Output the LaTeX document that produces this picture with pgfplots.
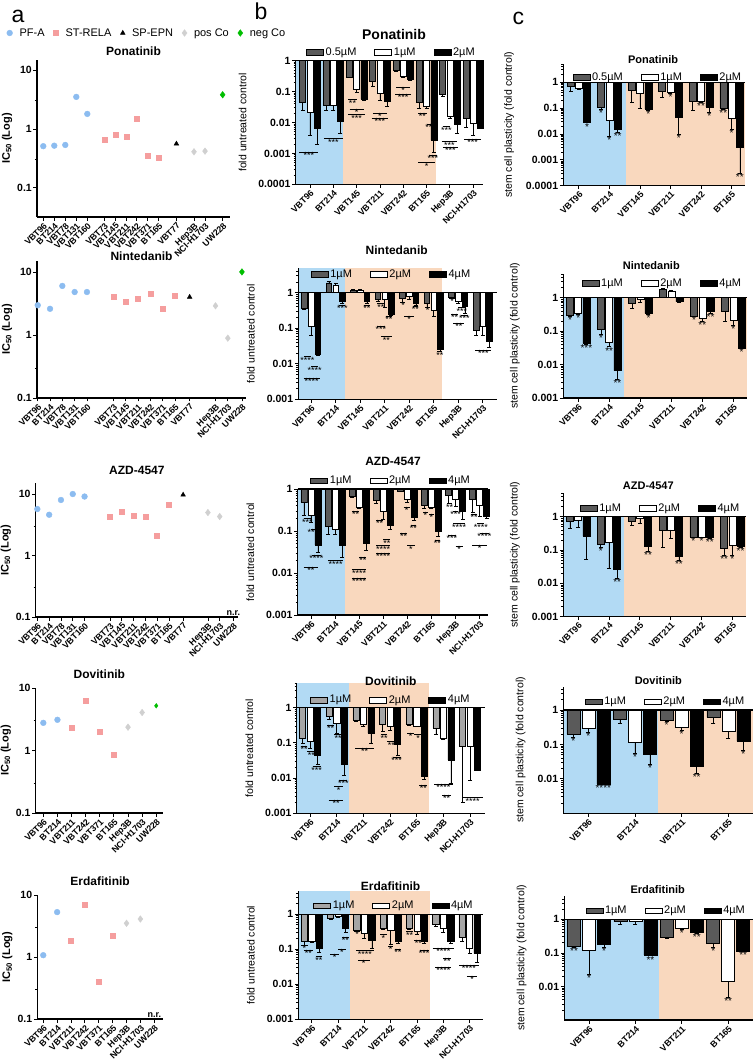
\documentclass[border=0pt]{standalone}
\usepackage{fontspec}
\setmainfont{Liberation Sans}
\usepackage{pgfplots}
\pgfplotsset{compat=1.18}
\definecolor{pfa}{RGB}{140,188,240}
\definecolor{rela}{RGB}{245,158,158}
\definecolor{posco}{RGB}{208,208,208}
\definecolor{negco}{RGB}{0,190,0}
\definecolor{bgb}{RGB}{178,218,244}
\definecolor{bgo}{RGB}{249,216,190}
\definecolor{dg}{RGB}{90,90,90}
\definecolor{lg}{RGB}{165,165,165}
\newcommand{\fs}[1]{\fontsize{#1bp}{#1bp}\selectfont}
\def\mfour{0.0002,0.0003,0.0004,0.0005,0.0006,0.0007,0.0008,0.0009}
\def\mthree{0.002,0.003,0.004,0.005,0.006,0.007,0.008,0.009}
\def\mtwo{0.02,0.03,0.04,0.05,0.06,0.07,0.08,0.09}
\def\mone{0.2,0.3,0.4,0.5,0.6,0.7,0.8,0.9}
\def\mup{2,3,4,5}
\newcommand{\sig}[4]{\draw[line width=0.5bp] (axis cs:#1,#3) -- (axis cs:#2,#3) node[midway,anchor=north,inner sep=0.2bp,font=\fs{9}] {#4};}
\newcommand{\st}[4]{\node[anchor=north,inner sep=0.2bp,font=\fs{10}] at ([xshift=#2bp]axis cs:#1,#3) {#4};}
\pgfplotsset{
  zqbase/.style={scale only axis, axis on top, clip=false,
    axis x line*=bottom, axis y line*=left,
    axis line style={line width=1.1bp},
    tick align=outside, major tick length=3.5bp, minor tick length=2bp,
    every tick/.append style={line width=0.8bp, black},
    yticklabel style={font=\bfseries\fs{10.5}, inner sep=1.5bp},
    xticklabel style={font=\bfseries\fs{8.8}, rotate=45, anchor=north east, inner sep=1bp},
    title style={font=\bfseries\fs{12}, anchor=center},
    ylabel style={font=\fs{10.5}},
    legend cell align=left,
  },
  zqsca/.style={zqbase, ytick={0.1,1,10}, yticklabels={0.1,1,10}, minor ytick={0.3,3},
    ylabel={IC\textsubscript{50} (Log)}, ylabel style={font=\bfseries\fs{11}},
  },
  zqbar/.style={zqbase, ybar=1.2bp, bar width=5.5bp,
    error bars/y dir=both, error bars/y explicit,
    error bars/error bar style={line width=0.6bp, black},
    error bars/error mark options={rotate=90, mark size=2bp, line width=0.6bp, black},
    legend columns=3,
    legend style={draw=none, fill=none, font=\fs{11}, anchor=center, /tikz/every even column/.append style={column sep=16bp}},
    extra y ticks={1}, extra y tick labels={},
    extra y tick style={ymajorgrids=true, major grid style={line width=1.1bp, black}},
    ylabel={fold untreated control},
  },
  zqcax/.style={zqbar, ylabel={stem cell plasticity (fold control)}, title style={font=\bfseries\fs{11}}},
  zqga/.style={fill=dg, draw=black, line width=0.5bp, area legend},
  zqgl/.style={fill=lg, draw=black, line width=0.5bp, area legend},
  zqgb/.style={fill=white, draw=black, line width=0.5bp, area legend},
  zqgc/.style={fill=black, draw=black, line width=0.5bp, area legend},
  zqmA/.style={only marks, mark=*, mark size=2.9bp, color=pfa, mark options={fill=pfa, draw=pfa}},
  zqmB/.style={only marks, mark=square*, mark size=2.5bp, color=rela, mark options={fill=rela, draw=rela}},
  zqmC/.style={only marks, mark=triangle*, mark size=2.7bp, color=black, mark options={fill=black, draw=black}},
  zqmD/.style={only marks, mark=diamond*, mark size=3.3bp, color=posco, mark options={fill=posco, draw=posco}},
  zqmE/.style={only marks, mark=diamond*, mark size=3.3bp, color=negco, mark options={fill=negco, draw=negco}},
}
\begin{document}
\begin{tikzpicture}
\path[use as bounding box] (0,0) rectangle (755bp,-1062bp);
\node[anchor=base west,font=\fs{23}] at (8bp,-22bp) {a};
\node[anchor=base west,font=\fs{23}] at (251bp,-19bp) {b};
\node[anchor=base west,font=\fs{23}] at (509bp,-24bp) {c};

% ---------------- column a ----------------
\begin{axis}[zqsca, ymode=log, anchor=south west, at={(37bp,-217bp)}, width=193bp, height=157bp,
  xmin=-0.57, xmax=16.97, ymin=0.032, ymax=14.8,
  xtick={0,1,2,3,4,5.55,6.55,7.55,8.5,9.5,10.5,12.1,13.7,14.7,16.3},
  xticklabels={VBT96,BT214,VBT78,VBT131,VBT160,VBT73,VBT145,VBT211,VBT242,VBT371,BT165,VBT77,Hep3B,NCI-H1703,UW228},
  title={Ponatinib}, title style={at={(0.5,1.02)}},
  legend columns=5,
  legend style={draw=none, fill=none, at={(0.57,1.172)}, anchor=center, font=\fs{11},
    /tikz/every odd column/.append style={column sep=5bp},
    /tikz/every even column/.append style={column sep=7bp}},
]
\addplot[zqmA] coordinates {(0,0.51)(1,0.52)(2,0.535)(3,3.5)(4,1.8)};
\addlegendentry{PF-A}
\addplot[zqmB] coordinates {(5.55,0.66)(6.55,0.79)(7.55,0.73)(8.5,1.5)(9.5,0.35)(10.5,0.32)};
\addlegendentry{ST-RELA}
\addplot[zqmC] coordinates {(12.1,0.56)};
\addlegendentry{SP-EPN}
\addplot[zqmD] coordinates {(13.7,0.41)(14.7,0.42)};
\addlegendentry{pos Co}
\addplot[zqmE] coordinates {(16.3,3.8)};
\addlegendentry{neg Co}
\end{axis}

\begin{axis}[zqsca, ymode=log, anchor=south west, at={(37bp,-398bp)}, width=209bp, height=137bp,
  xmin=-0.06, xmax=16.93, ymin=0.1, ymax=14.9,
  xtick={0,1,2,3,4,6.15,7.15,8.15,9.15,10.15,11.15,12.35,14.45,15.45,16.6},
  xticklabels={VBT96,BT214,VBT78,VBT131,VBT160,VBT73,VBT145,VBT211,VBT242,VBT371,BT165,VBT77,Hep3B,NCI-H1703,UW228},
  title={Nintedanib}, title style={at={(0.5,0.993)}},
]
\addplot[zqmA] coordinates {(0,2.96)(1,2.6)(2,6.0)(3,4.8)(4,4.8)};
\addplot[zqmB] coordinates {(6.15,4.0)(7.15,3.4)(8.15,3.8)(9.15,4.5)(10.15,2.6)(11.15,4.2)};
\addplot[zqmC] coordinates {(12.35,4.0)};
\addplot[zqmD] coordinates {(14.45,2.9)(15.45,0.89)};
\addplot[zqmE] coordinates {(16.6,10)};
\end{axis}

\begin{axis}[zqsca, ymode=log, anchor=south west, at={(35.7bp,-617bp)}, width=202.3bp, height=134bp,
  xmin=-0.14, xmax=17.0, ymin=0.1, ymax=15.1,
  xtick={0,1,2,3,4,6.15,7.15,8.15,9.15,10.15,11.15,12.35,14.45,15.45,16.6},
  xticklabels={VBT96,BT214,VBT78,VBT131,VBT160,VBT73,VBT145,VBT211,VBT242,VBT371,BT165,VBT77,Hep3B,NCI-H1703,UW228},
  title={AZD-4547}, title style={at={(0.5,1.052)}},
]
\addplot[zqmA] coordinates {(0,5.7)(1,4.6)(2,8.0)(3,10)(4,9.1)};
\addplot[zqmB] coordinates {(6.15,4.3)(7.15,5.2)(8.15,4.5)(9.15,4.3)(10.15,2.1)(11.15,6.6)};
\addplot[zqmC] coordinates {(12.35,9.7)};
\addplot[zqmD] coordinates {(14.45,5.0)(15.45,4.3)};
\node[anchor=south,font=\bfseries\fs{9},inner sep=1bp] at (axis cs:16.6,0.1) {n.r.};
\end{axis}

\begin{axis}[zqsca, ymode=log, anchor=south west, at={(35.7bp,-813bp)}, width=127.3bp, height=125bp,
  xmin=-0.54, xmax=8.48, ymin=0.1, ymax=10,
  xtick={0,...,8},
  xticklabels={VBT96,BT214,VBT211,VBT242,VBT371,BT165,Hep3B,NCI-H1703,UW228},
  title={Dovitinib}, title style={at={(0.5,1.064)}},
]
\addplot[zqmA] coordinates {(0,2.77)(1,3.1)};
\addplot[zqmB] coordinates {(2,2.3)(3,6.2)(4,2.0)(5,0.85)};
\addplot[zqmD] coordinates {(6,2.36)(7,4.06)};
\addplot[zqmE, mark size=2.3bp] coordinates {(8,5.2)};
\end{axis}

\begin{axis}[zqsca, ymode=log, anchor=south west, at={(37.3bp,-1019bp)}, width=125.7bp, height=124bp,
  xmin=-0.43, xmax=8.63, ymin=0.1, ymax=10,
  xtick={0,...,8},
  xticklabels={VBT96,BT214,VBT211,VBT242,VBT371,BT165,Hep3B,NCI-H1703,UW228},
  title={Erdafitinib}, title style={at={(0.5,1.065)}},
]
\addplot[zqmA] coordinates {(0,1.07)(1,5.3)};
\addplot[zqmB] coordinates {(2,1.8)(3,6.9)(4,0.4)(5,2.2)};
\addplot[zqmD] coordinates {(6,3.5)(7,4.1)};
\node[anchor=south,font=\bfseries\fs{9},inner sep=1bp] at (axis cs:8,0.1) {n.r.};
\end{axis}

% ---------------- column b ----------------
\begin{axis}[zqbar, ymode=log, anchor=south west, at={(295.7bp,-184.3bp)}, width=187.3bp, height=123.6bp,
  bar width=6bp, ybar=1.2bp,
  xmin=-0.61, xmax=7.42, ymin=0.0001, ymax=1,
  ytick={0.0001,0.001,0.01,0.1,1}, yticklabels={0.0001,0.001,0.01,0.1,1},
  minor ytick/.expanded={\mfour,\mthree,\mtwo,\mone},
  xtick={0,...,7}, xticklabels={VBT96,BT214,VBT145,VBT211,VBT242,BT165,Hep3B,NCI-H1703},
  title={Ponatinib}, title style={at={(0.525,1.167)}, font=\bfseries\fs{14}},
  legend style={at={(0.511,1.07)}},
]
\fill[bgb] (axis cs:-0.61,0.0001) rectangle (axis cs:1.4,1);
\fill[bgo] (axis cs:1.4,0.0001) rectangle (axis cs:5.4,1);
\addplot[zqga] coordinates {(0,0.045) -= (0,0.02) (1,0.035) -= (0,0.01) (2,0.29) -= (0,0.01) (3,0.21) -= (0,0.06) (4,0.48) -= (0,0.03) (5,0.044) -= (0,0.015) (6,0.085) -= (0,0.015) (7,0.014) -= (0,0.007)};
\addlegendentry{0.5µM}
\addplot[zqgb] coordinates {(0,0.021) -= (0,0.017) (1,0.035) -= (0,0.01) (2,0.12) -= (0,0.025) (3,0.089) -= (0,0.035) (4,0.32) -= (0,0.02) (5,0.033) -= (0,0.004) (6,0.016) -= (0,0.002) (7,0.0095) -= (0,0.0055)};
\addlegendentry{1µM}
\addplot[zqgc] coordinates {(0,0.0065) -= (0,0.0045) (1,0.011) -= (0,0.0065) (2,0.057) -= (0,0.005) (3,0.048) -= (0,0.015) (4,0.26) -= (0,0.03) (5,0.0027) -= (0,0.0016) (6,0.009) -= (0,0.0045) (7,0.0065)};
\addlegendentry{2µM}
\sig{-0.45}{0.35}{0.0011}{***}
\sig{0.6}{1.4}{0.003}{***}
\sig{1.65}{2.0}{0.055}{**}
\sig{1.7}{2.3}{0.027}{*}
\sig{1.65}{2.35}{0.018}{***}
\sig{2.7}{3.3}{0.02}{*}
\sig{2.65}{3.35}{0.014}{***}
\sig{3.7}{4.3}{0.14}{*}
\sig{3.65}{4.35}{0.085}{***}
\sig{4.65}{5.0}{0.02}{**}
\sig{5.0}{5.35}{0.009}{***}
\sig{5.1}{5.45}{0.0009}{***}
\sig{4.65}{5.35}{0.0005}{*}
\sig{5.7}{6.0}{0.0074}{***}
\sig{5.65}{6.3}{0.0024}{***}
\sig{5.7}{6.35}{0.0016}{***}
\sig{6.6}{7.35}{0.0029}{***}
\end{axis}

\begin{axis}[zqbar, ymode=log, anchor=south west, at={(298.3bp,-399.3bp)}, width=198.4bp, height=131bp,
  xmin=-0.52, xmax=7.57, ymin=0.001, ymax=4.87,
  ytick={0.001,0.01,0.1,1}, yticklabels={0.001,0.01,0.1,1},
  minor ytick/.expanded={\mthree,\mtwo,\mone,\mup},
  xtick={0,...,7}, xticklabels={VBT96,BT214,VBT145,VBT211,VBT242,BT165,Hep3B,NCI-H1703},
  title={Nintedanib}, title style={at={(0.496,1.089)}},
  legend style={at={(0.47,0.956)}},
]
\fill[bgb] (axis cs:-0.52,0.001) rectangle (axis cs:1.39,4.87);
\fill[bgo] (axis cs:1.39,0.001) rectangle (axis cs:5.35,4.87);
\addplot[zqga] coordinates {(0,0.36) -= (0,0.02) (1,1.9) += (0,0.15) (2,1.19) += (0,0.05) (3,0.65) -= (0,0.08) (4,0.68) -= (0,0.13) (5,0.5) -= (0,0.1) (6,0.77) -= (0,0.08) (7,0.089) -= (0,0.025)};
\addlegendentry{1µM}
\addplot[zqgb] coordinates {(0,0.115) -= (0,0.05) (1,1.64) += (0,0.2) (2,1.18) += (0,0.03) (3,0.65) -= (0,0.25) (4,0.82) -= (0,0.15) (5,0.32) -= (0,0.1) (6,0.56) -= (0,0.05) (7,0.115) -= (0,0.05)};
\addlegendentry{2µM}
\addplot[zqgc] coordinates {(0,0.018) -= (0,0.001) (1,0.56) -= (0,0.05) (2,0.56) -= (0,0.05) (3,0.25) -= (0,0.02) (4,0.52) -= (0,0.07) (5,0.025) -= (0,0.002) (6,0.42) -= (0,0.15) (7,0.042) -= (0,0.012)};
\addlegendentry{4µM}
\sig{-0.3}{0}{0.016}{****}
\sig{0}{0.3}{0.0083}{****}
\sig{-0.3}{0.35}{0.0039}{****}
\sig{1.15}{1.4}{0.45}{***}
\sig{2.15}{2.4}{0.45}{**}
\sig{2.7}{3.0}{0.5}{**}
\sig{3.05}{3.3}{0.22}{**}
\sig{2.7}{3.0}{0.115}{***}
\sig{2.85}{3.3}{0.058}{**}
\sig{3.65}{3.85}{0.55}{*}
\sig{4.15}{4.35}{0.42}{**}
\sig{3.8}{4.2}{0.22}{*}
\sig{4.65}{4.85}{0.4}{*}
\sig{5.15}{5.35}{0.022}{**}
\sig{5.65}{5.85}{0.7}{*}
\sig{6.0}{6.3}{0.38}{***}
\sig{5.7}{6.0}{0.25}{**}
\sig{6.1}{6.4}{0.24}{***}
\sig{5.8}{6.25}{0.14}{**}
\sig{6.7}{7.35}{0.024}{***}
\end{axis}

\begin{axis}[zqbar, ymode=log, anchor=south west, at={(297.7bp,-615bp)}, width=190.6bp, height=126bp,
  bar width=6bp, ybar=1bp,
  xmin=-0.55, xmax=7.36, ymin=0.001, ymax=1,
  ytick={0.001,0.01,0.1,1}, yticklabels={0.001,0.01,0.1,1},
  minor ytick/.expanded={\mthree,\mtwo,\mone},
  xtick={0,...,7}, xticklabels={VBT96,BT214,VBT145,VBT211,VBT242,BT165,Hep3B,NCI-H1703},
  title={AZD-4547}, title style={at={(0.5,1.172)}},
  legend style={at={(0.49,1.066)}},
]
\fill[bgb] (axis cs:-0.55,0.001) rectangle (axis cs:1.4,1);
\fill[bgo] (axis cs:1.4,0.001) rectangle (axis cs:5.37,1);
\addplot[zqga] coordinates {(0,0.48) -= (0,0.24) (1,0.13) -= (0,0.045) (2,0.66) -= (0,0.03) (3,0.55) -= (0,0.1) (4,0.9) -= (0,0.03) (5,0.4) -= (0,0.06) (6,0.72) -= (0,0.26) (7,0.58) -= (0,0.3)};
\addlegendentry{1µM}
\addplot[zqgb] coordinates {(0,0.24) -= (0,0.08) (1,0.11) -= (0,0.025) (2,0.37) -= (0,0.02) (3,0.29) -= (0,0.1) (4,0.57) -= (0,0.1) (5,0.37) -= (0,0.03) (6,0.58) -= (0,0.2) (7,0.42) -= (0,0.2)};
\addlegendentry{2µM}
\addplot[zqgc] coordinates {(0,0.047) -= (0,0.016) (1,0.047) -= (0,0.023) (2,0.051) -= (0,0.016) (3,0.14) -= (0,0.03) (4,0.21) -= (0,0.03) (5,0.1) -= (0,0.027) (6,0.29) -= (0,0.1) (7,0.22) -= (0,0.02)};
\addlegendentry{4µM}
\sig{-0.3}{0}{0.2}{***}
\sig{0}{0.3}{0.11}{****}
\sig{0.05}{0.4}{0.027}{****}
\sig{-0.3}{0.3}{0.014}{**}
\sig{0.7}{1.35}{0.02}{****}
\sig{1.7}{2.0}{0.3}{**}
\sig{2.0}{2.3}{0.024}{**}
\sig{1.7}{2.3}{0.012}{****}
\sig{1.7}{2.3}{0.0075}{****}
\sig{2.7}{3.0}{0.18}{**}
\sig{3.0}{3.3}{0.063}{**}
\sig{2.7}{3.3}{0.045}{****}
\sig{2.7}{3.3}{0.03}{****}
\sig{3.85}{4.1}{0.37}{*}
\sig{4.15}{4.35}{0.14}{**}
\sig{3.7}{4.0}{0.088}{**}
\sig{4.0}{4.3}{0.045}{*}
\sig{4.65}{4.85}{0.28}{*}
\sig{4.9}{5.1}{0.25}{*}
\sig{5.15}{5.35}{0.061}{**}
\sig{5.65}{5.85}{0.45}{**}
\sig{5.9}{6.1}{0.3}{***}
\sig{5.9}{6.4}{0.15}{****}
\sig{5.7}{6.0}{0.08}{***}
\sig{6.0}{6.3}{0.044}{*}
\sig{6.65}{6.9}{0.25}{**}
\sig{6.9}{7.2}{0.15}{****}
\sig{7.0}{7.4}{0.088}{****}
\sig{6.7}{7.3}{0.046}{*}
\end{axis}

\begin{axis}[zqbar, ymode=log, anchor=south west, at={(296.7bp,-813.3bp)}, width=188.3bp, height=130.3bp,
  bar width=6.2bp, ybar=1.3bp,
  xmin=-0.5, xmax=6.56, ymin=0.001, ymax=5.0,
  ytick={0.001,0.01,0.1,1}, yticklabels={0.001,0.01,0.1,1},
  minor ytick/.expanded={\mthree,\mtwo,\mone,\mup},
  xtick={0,...,6}, xticklabels={VBT96,BT214,VBT211,VBT242,BT165,Hep3B,NCI-H1703},
  title={Dovitinib}, title style={at={(0.5,0.97)}},
  legend style={at={(0.5,0.87)}},
]
\fill[bgb] (axis cs:-0.5,0.001) rectangle (axis cs:1.46,5);
\fill[bgo] (axis cs:1.46,0.001) rectangle (axis cs:4.45,5);
\addplot[zqgl] coordinates {(0,0.135) -= (0,0.04) (1,0.56) -= (0,0.1) (2,0.45) -= (0,0.05) (3,0.34) -= (0,0.13) (4,0.34) -= (0,0.03) (5,0.26) -= (0,0.08) (6,0.08) -= (0,0.078)};
\addlegendentry{1µM}
\addplot[zqgb] coordinates {(0,0.11) -= (0,0.04) (1,0.36) -= (0,0.17) (2,0.34) -= (0,0.04) (3,0.3) -= (0,0.07) (4,0.3) (5,0.135) -= (0,0.01) (6,0.078) -= (0,0.0695)};
\addlegendentry{2µM}
\addplot[zqgc] coordinates {(0,0.045) -= (0,0.02) (1,0.025) -= (0,0.013) (2,0.19) -= (0,0.09) (3,0.093) -= (0,0.05) (4,0.011) -= (0,0.002) (5,0.033) -= (0,0.026) (6,0.017)};
\addlegendentry{4µM}
\sig{-0.35}{-0.1}{0.08}{**}
\sig{-0.1}{0.2}{0.056}{**}
\sig{0.1}{0.4}{0.021}{***}
\sig{0.65}{0.9}{0.32}{**}
\sig{0.9}{1.2}{0.17}{**}
\sig{1.1}{1.4}{0.0088}{***}
\sig{0.9}{1.25}{0.0057}{*}
\sig{0.7}{1.25}{0.0024}{**}
\sig{1.7}{2.4}{0.07}{**}
\sig{2.65}{2.9}{0.17}{**}
\sig{2.9}{3.2}{0.11}{**}
\sig{3.1}{3.4}{0.04}{***}
\sig{3.65}{3.9}{0.19}{*}
\sig{3.9}{4.2}{0.17}{*}
\sig{4.1}{4.4}{0.0064}{**}
\sig{4.65}{5.35}{0.0068}{****}
\sig{4.95}{5.3}{0.0033}{**}
\sig{5.7}{6.5}{0.0028}{****}
\end{axis}

\begin{axis}[zqbar, ymode=log, anchor=south west, at={(298.3bp,-1019.3bp)}, width=184.7bp, height=128.6bp,
  bar width=6.2bp, ybar=1.3bp,
  xmin=-0.51, xmax=6.51, ymin=0.001, ymax=4.7,
  ytick={0.001,0.01,0.1,1}, yticklabels={0.001,0.01,0.1,1},
  minor ytick/.expanded={\mthree,\mtwo,\mone,\mup},
  xtick={0,...,6}, xticklabels={VBT96,BT214,VBT211,VBT242,BT165,Hep3B,NCI-H1703},
  title={Erdafitinib}, title style={at={(0.5,0.99)}},
  legend style={at={(0.518,0.883)}},
]
\fill[bgb] (axis cs:-0.51,0.001) rectangle (axis cs:1.46,4.7);
\fill[bgo] (axis cs:1.46,0.001) rectangle (axis cs:4.5,4.7);
\addplot[zqgl] coordinates {(0,0.17) -= (0,0.04) (1,0.77) -= (0,0.05) (2,0.34) -= (0,0.02) (3,0.4) -= (0,0.04) (4,0.4) -= (0,0.02) (5,0.52) -= (0,0.07) (6,0.22) -= (0,0.05)};
\addlegendentry{1µM}
\addplot[zqgb] coordinates {(0,0.17) -= (0,0.01) (1,0.86) -= (0,0.03) (2,0.29) -= (0,0.09) (3,0.34) -= (0,0.2) (4,0.32) -= (0,0.06) (5,0.4) -= (0,0.1) (6,0.11) -= (0,0.033)};
\addlegendentry{2µM}
\addplot[zqgc] coordinates {(0,0.107) -= (0,0.027) (1,0.4) -= (0,0.1) (2,0.185) -= (0,0.075) (3,0.17) -= (0,0.02) (4,0.17) -= (0,0.02) (5,0.17) -= (0,0.02) (6,0.077) -= (0,0.035)};
\addlegendentry{4µM}
\sig{-0.4}{-0.15}{0.13}{*}
\sig{-0.3}{0.05}{0.096}{**}
\sig{0.15}{0.4}{0.062}{**}
\sig{1.15}{1.4}{0.22}{**}
\sig{1.0}{1.3}{0.1}{*}
\sig{0.7}{1.05}{0.074}{*}
\sig{1.6}{1.85}{0.33}{*}
\sig{1.7}{2.35}{0.092}{****}
\sig{1.75}{2.2}{0.05}{*}
\sig{2.6}{2.85}{0.26}{*}
\sig{2.9}{3.1}{0.125}{*}
\sig{3.15}{3.4}{0.1}{**}
\sig{3.6}{3.85}{0.32}{**}
\sig{3.9}{4.2}{0.185}{**}
\sig{4.1}{4.45}{0.096}{***}
\sig{4.6}{5.4}{0.11}{****}
\sig{5.0}{5.3}{0.056}{**}
\sig{4.7}{5.3}{0.031}{****}
\sig{5.6}{6.35}{0.036}{****}
\sig{5.9}{6.3}{0.017}{*}
\end{axis}

% ---------------- column c ----------------
\begin{axis}[zqcax, ymode=log, anchor=south west, at={(563.3bp,-185.7bp)}, width=181.7bp, height=121.7bp,
  bar width=7bp, ybar=1.3bp,
  xmin=-0.51, xmax=5.44, ymin=0.0001, ymax=5.0,
  ytick={0.0001,0.001,0.01,0.1,1}, yticklabels={0.0001,0.001,0.01,0.1,1},
  minor ytick/.expanded={\mfour,\mthree,\mtwo,\mone,\mup},
  xtick={0,...,5}, xticklabels={VBT96,BT214,VBT145,VBT211,VBT242,BT165},
  title={Ponatinib}, title style={at={(0.494,0.99)}},
  legend style={at={(0.52,0.89)}},
]
\fill[bgb] (axis cs:-0.51,0.0001) rectangle (axis cs:1.53,1);
\fill[bgo] (axis cs:1.53,0.0001) rectangle (axis cs:5.44,1);
\addplot[zqga] coordinates {(0,0.68) -= (0,0.22) (1,0.107) -= (0,0.02) (2,0.48) -= (0,0.32) (3,0.44) -= (0,0.19) (4,0.18) -= (0,0.1) (5,0.1) -= (0,0.01)};
\addlegendentry{0.5µM}
\addplot[zqgb] coordinates {(0,0.59) -= (0,0.04) (1,0.033) -= (0,0.025) (2,0.36) -= (0,0.26) (3,0.4) -= (0,0.03) (4,0.18) -= (0,0.01) (5,0.039) -= (0,0.024)};
\addlegendentry{1µM}
\addplot[zqgc] coordinates {(0,0.029) -= (0,0.002) (1,0.015) -= (0,0.003) (2,0.09) -= (0,0.005) (3,0.045) -= (0,0.035) (4,0.11) -= (0,0.04) (5,0.003) -= (0,0.0027)};
\addlegendentry{2µM}
\st{0}{8.3}{0.027}{*}
\st{1}{-8.3}{0.087}{*}
\st{1}{0}{0.008}{*}
\st{1}{8.3}{0.012}{**}
\st{2}{8.3}{0.085}{*}
\st{3}{0}{0.37}{*}
\st{3}{8.3}{0.01}{*}
\st{4}{0}{0.17}{**}
\st{4}{8.3}{0.07}{*}
\st{5}{-8.3}{0.09}{**}
\st{5}{0}{0.015}{*}
\st{5}{8.3}{0.0003}{**}
\end{axis}

\begin{axis}[zqcax, ymode=log, anchor=south west, at={(563.3bp,-398bp)}, width=183.4bp, height=124bp,
  bar width=7bp, ybar=1.2bp,
  xmin=-0.48, xmax=5.43, ymin=0.001, ymax=5.1,
  ytick={0.001,0.01,0.1,1}, yticklabels={0.001,0.01,0.1,1},
  minor ytick/.expanded={\mthree,\mtwo,\mone,\mup},
  xtick={0,...,5}, xticklabels={VBT96,BT214,VBT145,VBT211,VBT242,BT165},
  title={Nintedanib}, title style={at={(0.48,1.02)}},
  legend style={at={(0.54,0.925)}},
]
\fill[bgb] (axis cs:-0.48,0.001) rectangle (axis cs:1.48,1);
\fill[bgo] (axis cs:1.48,0.001) rectangle (axis cs:5.43,1);
\addplot[zqga] coordinates {(0,0.3) -= (0,0.03) (1,0.11) -= (0,0.03) (2,0.68) -= (0,0.2) (3,1.78) += (0,0.1) (4,0.28) -= (0,0.01) (5,0.38) -= (0,0.18)};
\addlegendentry{1µM}
\addplot[zqgb] coordinates {(0,0.34) -= (0,0.02) (1,0.048) -= (0,0.014) (2,0.9) -= (0,0.15) (3,1.6) += (0,0.1) (4,0.25) -= (0,0.05) (5,0.21) -= (0,0.06)};
\addlegendentry{2µM}
\addplot[zqgc] coordinates {(0,0.043) -= (0,0.002) (1,0.0066) -= (0,0.003) (2,0.34) -= (0,0.02) (3,0.76) -= (0,0.05) (4,0.38) -= (0,0.03) (5,0.03)};
\addlegendentry{4µM}
\st{0}{-8.2}{0.27}{*}
\st{0}{0}{0.32}{*}
\st{0}{8.2}{0.041}{***}
\st{1}{-8.2}{0.08}{*}
\st{1}{0}{0.034}{**}
\st{1}{8.2}{0.0036}{**}
\st{2}{8.2}{0.32}{*}
\st{4}{-8.2}{0.27}{*}
\st{4}{0}{0.2}{**}
\st{4}{8.2}{0.35}{**}
\st{5}{0}{0.15}{*}
\st{5}{8.2}{0.03}{*}
\end{axis}

\begin{axis}[zqcax, ymode=log, anchor=south west, at={(563.3bp,-616.7bp)}, width=182.4bp, height=124bp,
  bar width=7bp, ybar=1.2bp,
  xmin=-0.48, xmax=5.43, ymin=0.001, ymax=5.25,
  ytick={0.001,0.01,0.1,1}, yticklabels={0.001,0.01,0.1,1},
  minor ytick/.expanded={\mthree,\mtwo,\mone,\mup},
  xtick={0,...,5}, xticklabels={VBT96,BT214,VBT145,VBT211,VBT242,BT165},
  title={AZD-4547}, title style={at={(0.466,1.008)}},
  legend style={at={(0.533,0.874)}},
]
\fill[bgb] (axis cs:-0.48,0.001) rectangle (axis cs:1.48,1);
\fill[bgo] (axis cs:1.48,0.001) rectangle (axis cs:5.43,1);
\addplot[zqga] coordinates {(0,0.71) -= (0,0.27) (1,0.15) -= (0,0.025) (2,0.71) -= (0,0.15) (3,0.4) -= (0,0.28) (4,0.25) -= (0,0.01) (5,0.11) -= (0,0.04)};
\addlegendentry{1µM}
\addplot[zqgb] coordinates {(0,0.79) -= (0,0.3) (1,0.17) -= (0,0.142) (2,0.93) -= (0,0.3) (3,0.4) -= (0,0.18) (4,0.25) -= (0,0.01) (5,0.14) -= (0,0.07)};
\addlegendentry{2µM}
\addplot[zqgc] coordinates {(0,0.26) -= (0,0.208) (1,0.026) -= (0,0.012) (2,0.13) -= (0,0.04) (3,0.063) -= (0,0.013) (4,0.24) -= (0,0.01) (5,0.13) -= (0,0.01)};
\addlegendentry{4µM}
\st{1}{-8.2}{0.125}{*}
\st{1}{8.2}{0.014}{**}
\st{2}{8.2}{0.09}{**}
\st{3}{8.2}{0.05}{**}
\st{4}{-8.2}{0.24}{*}
\st{4}{0}{0.24}{*}
\st{4}{8.2}{0.23}{**}
\st{5}{-8.2}{0.07}{**}
\st{5}{0}{0.07}{*}
\st{5}{8.2}{0.12}{**}
\end{axis}

\begin{axis}[zqcax, ymode=log, anchor=south west, at={(563.3bp,-813.3bp)}, width=190bp, height=126.6bp,
  bar width=13bp, ybar=2bp,
  xmin=-0.535, xmax=3.535, ymin=0.001, ymax=4.76,
  ytick={0.01,0.1,1}, yticklabels={0.01,0.1,1},
  minor ytick/.expanded={\mthree,\mtwo,\mone,\mup},
  xtick={0,...,3}, xticklabels={VBT96,BT214,VBT211,BT165},
  title={Dovitinib}, title style={at={(0.5,1.0)}},
  legend style={at={(0.538,0.88)}},
]
\fill[bgb] (axis cs:-0.535,0.001) rectangle (axis cs:1.5,1);
\fill[bgo] (axis cs:1.5,0.001) rectangle (axis cs:3.535,1);
\addplot[zqga] coordinates {(0,0.2) -= (0,0.04) (1,0.55) -= (0,0.15) (2,0.51) -= (0,0.03) (3,0.61) -= (0,0.19)};
\addlegendentry{1µM}
\addplot[zqgb] coordinates {(0,0.3) -= (0,0.08) (1,0.115) -= (0,0.06) (2,0.31) -= (0,0.05) (3,0.24) -= (0,0.09)};
\addlegendentry{2µM}
\addplot[zqgc] coordinates {(0,0.0072) (1,0.053) -= (0,0.026) (2,0.024) -= (0,0.009) (3,0.126) -= (0,0.06)};
\addlegendentry{4µM}
\st{0}{-15}{0.16}{*}
\st{0}{0}{0.22}{*}
\st{0}{15}{0.0068}{****}
\st{1}{0}{0.055}{*}
\st{1}{15}{0.027}{*}
\st{2}{-15}{0.48}{*}
\st{2}{0}{0.26}{*}
\st{2}{15}{0.015}{**}
\st{3}{15}{0.066}{*}
\end{axis}

\begin{axis}[zqcax, ymode=log, anchor=south west, at={(564.3bp,-1020bp)}, width=188.7bp, height=124bp,
  bar width=13bp, ybar=2bp,
  xmin=-0.535, xmax=3.535, ymin=0.001, ymax=4.96,
  ytick={0.01,0.1,1}, yticklabels={0.01,0.1,1},
  minor ytick/.expanded={\mthree,\mtwo,\mone,\mup},
  xtick={0,...,3}, xticklabels={VBT96,BT214,VBT211,BT165},
  title={Erdafitinib}, title style={at={(0.495,1.0)}},
  legend style={at={(0.54,0.88)}},
]
\fill[bgb] (axis cs:-0.535,0.001) rectangle (axis cs:1.5,1);
\fill[bgo] (axis cs:1.5,0.001) rectangle (axis cs:3.535,1);
\addplot[zqga] coordinates {(0,0.16) -= (0,0.01) (1,0.85) -= (0,0.12) (2,0.3) -= (0,0.03) (3,0.19) -= (0,0.04)};
\addlegendentry{1µM}
\addplot[zqgb] coordinates {(0,0.12) -= (0,0.097) (1,0.85) -= (0,0.15) (2,0.54) -= (0,0.04) (3,0.014) -= (0,0.0092)};
\addlegendentry{2µM}
\addplot[zqgc] coordinates {(0,0.185) -= (0,0.035) (1,0.087) -= (0,0.005) (2,0.4) -= (0,0.02) (3,0.115) -= (0,0.005)};
\addlegendentry{4µM}
\st{0}{-15}{0.15}{**}
\st{0}{0}{0.023}{*}
\st{0}{15}{0.15}{*}
\st{1}{15}{0.082}{**}
\st{2}{0}{0.5}{*}
\st{2}{15}{0.38}{**}
\st{3}{-15}{0.15}{*}
\st{3}{0}{0.0048}{**}
\st{3}{15}{0.11}{**}
\end{axis}
\end{tikzpicture}
\end{document}
